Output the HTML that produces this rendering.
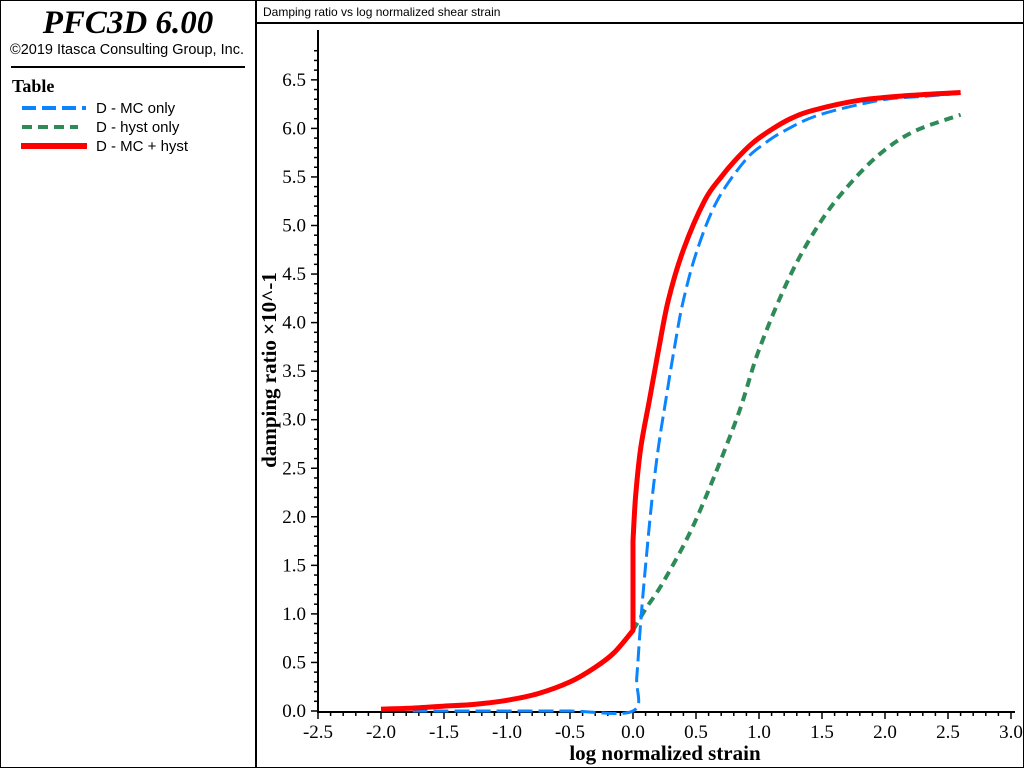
<!DOCTYPE html>
<html><head><meta charset="utf-8"><style>
body{margin:0;background:#fff;width:1024px;height:768px;overflow:hidden;font-family:"Liberation Sans",sans-serif}
</style></head><body>
<svg width="1024" height="768" xmlns="http://www.w3.org/2000/svg">
<rect x="0.5" y="0.5" width="1023" height="767" fill="#fff" stroke="#000"/>
<line x1="256" y1="0" x2="256" y2="768" stroke="#000" stroke-width="2"/>
<text x="128" y="33" text-anchor="middle" font-family="Liberation Serif,serif" font-style="italic" font-weight="bold" font-size="33">PFC3D 6.00</text>
<text x="127" y="54" text-anchor="middle" font-size="14.5">©2019 Itasca Consulting Group, Inc.</text>
<line x1="11" y1="67" x2="245" y2="67" stroke="#000" stroke-width="2"/>
<text x="12" y="92" font-family="Liberation Serif,serif" font-weight="bold" font-size="18">Table</text>
<g><line x1="22" y1="108" x2="86" y2="108" stroke="#0a84ff" stroke-width="4" stroke-dasharray="14,6"/><text x="96" y="113" font-size="15">D - MC only</text></g>
<g><line x1="22" y1="127" x2="78" y2="127" stroke="#2e8b57" stroke-width="4" stroke-dasharray="10,6"/><text x="96" y="132" font-size="15">D - hyst only</text></g>
<g><line x1="21" y1="146" x2="87" y2="146" stroke="#ff0000" stroke-width="6"/><text x="96" y="151" font-size="15">D - MC + hyst</text></g>
<line x1="256" y1="23" x2="1024" y2="23" stroke="#000" stroke-width="2"/>
<text x="263" y="16" font-size="12">Damping ratio vs log normalized shear strain</text>
<g id="axes"></g>
<g id="series"></g>
<text x="665" y="760" text-anchor="middle" font-family="Liberation Serif,serif" font-weight="bold" font-size="21">log normalized strain</text>
<text transform="translate(276,370) rotate(-90)" text-anchor="middle" font-family="Liberation Serif,serif" font-weight="bold" font-size="21">damping ratio ×10^-1</text>
</svg>
<script>
const xTicks=[-2.5,-2.0,-1.5,-1.0,-0.5,0.0,0.5,1.0,1.5,2.0,2.5,3.0];
const yTicks=[0,0.5,1,1.5,2,2.5,3,3.5,4,4.5,5,5.5,6,6.5];
const redX=[-2,-1.75,-1.5,-1.25,-1,-0.75,-0.5,-0.3,-0.15,0,0,0.02,0.06,0.13,0.2,0.28,0.4,0.57,0.7,0.81,0.95,1.09,1.25,1.44,1.8,2.2,2.6];
const redY=[0.02,0.03,0.05,0.07,0.11,0.18,0.3,0.45,0.6,0.83,1.75,2.2,2.7,3.2,3.7,4.23,4.75,5.26,5.5,5.67,5.85,5.98,6.1,6.19,6.29,6.34,6.37];
const blueX=[-1.75,-1,-0.5,0,0.03,0.06,0.1,0.15,0.2,0.26,0.33,0.4,0.51,0.67,0.89,1.05,1.21,1.48,1.96,2.3,2.6];
const blueY=[0,0,0,0,0.35,0.9,1.5,2.17,2.7,3.2,3.75,4.23,4.75,5.26,5.67,5.85,5.98,6.14,6.29,6.33,6.36];
const greenX=[0,0.1,0.25,0.5,0.82,1.0,1.25,1.5,1.75,2.0,2.25,2.6];
const greenY=[0.83,1.05,1.35,1.97,3.0,3.72,4.49,5.06,5.47,5.78,5.98,6.14];
const X=v=>633+(v)*126, Y=v=>711-v*97.1;
const NS="http://www.w3.org/2000/svg";
function mk(t,a,p){const e=document.createElementNS(NS,t);for(const k in a)e.setAttribute(k,a[k]);p.appendChild(e);return e;}
const ax=document.getElementById('axes');
let l=mk('line',{x1:318,y1:30,x2:318,y2:712,stroke:'#000','stroke-width':2},ax);


l=mk('line',{x1:317,y1:712,x2:1015,y2:712,stroke:'#000','stroke-width':2},ax);


for(let i=0;i<=55;i++){const v=-2.5+i*0.1,major=i%5==0;mk('line',{x1:X(v),y1:712,x2:X(v),y2:major?719:716,stroke:'#000','stroke-width':1.5},ax);}
for(let i=0;i<=68;i++){const v=i*0.1,major=i%5==0;mk('line',{x1:major?311:314,y1:Y(v),x2:318,y2:Y(v),stroke:'#000','stroke-width':1.5},ax);}
xTicks.forEach(v=>{const t=mk('text',{x:X(v),y:738,'text-anchor':'middle','font-family':'Liberation Serif,serif','font-size':19},ax);t.textContent=v.toFixed(1);

});
yTicks.forEach(v=>{const t=mk('text',{x:306,y:Y(v)+6,'text-anchor':'end','font-family':'Liberation Serif,serif','font-size':19},ax);t.textContent=v.toFixed(1);

});
const sg=document.getElementById('series');
function smooth(pts){let d='M'+pts[0][0].toFixed(1)+','+pts[0][1].toFixed(1);
for(let i=0;i<pts.length-1;i++){const p0=pts[i-1]||pts[i],p1=pts[i],p2=pts[i+1],p3=pts[i+2]||p2;
if(Math.abs(p1[0]-p2[0])<0.5){d+=' L'+p2[0].toFixed(1)+','+p2[1].toFixed(1);continue;}
const q0=(Math.abs(p0[0]-p1[0])<0.5)?p1:p0,q3=(Math.abs(p3[0]-p2[0])<0.5)?p2:p3;
const c1=[p1[0]+(p2[0]-q0[0])/6,p1[1]+(p2[1]-q0[1])/6],c2=[p2[0]-(q3[0]-p1[0])/6,p2[1]-(q3[1]-p1[1])/6];
d+=' C'+c1.map(v=>v.toFixed(1)).join(',')+' '+c2.map(v=>v.toFixed(1)).join(',')+' '+p2[0].toFixed(1)+','+p2[1].toFixed(1);}
return d;}
function line(xs,ys,st,name){const pts=xs.map((x,i)=>[X(x),Y(ys[i])]);const p=mk('path',Object.assign({d:smooth(pts),fill:'none'},st),sg);

}
line(greenX,greenY,{stroke:'#2e8b57','stroke-width':4,'stroke-dasharray':'9,6'},'series-hyst-only');
line(blueX,blueY,{stroke:'#0a84ff','stroke-width':3,'stroke-dasharray':'15,6'},'series-mc-only');
line(redX,redY,{stroke:'#ff0000','stroke-width':5,'stroke-linejoin':'round'},'series-mc-hyst');
</script>
</body></html>
